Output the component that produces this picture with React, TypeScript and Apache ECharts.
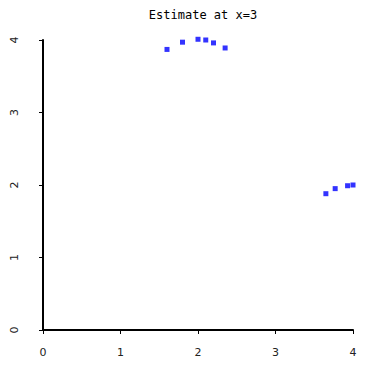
import React, { useEffect, useRef } from "react";
import * as echarts from "echarts";

const titleText = "Estimate at x=3";
const xTicks = [0, 1, 2, 3, 4];
const leftX = [1.6, 1.8, 2.0, 2.1, 2.2, 2.35];
const leftY = [3.87, 3.97, 4.01, 4.0, 3.96, 3.89];
const rightX = [3.65, 3.77, 3.93, 4.0];
const rightY = [1.88, 1.95, 1.99, 2.0];

export default function App() {
  const ref = useRef<HTMLDivElement>(null);
  useEffect(() => {
    if (!ref.current) return;
    const chart = echarts.init(ref.current, undefined, { renderer: "svg" });
    const points = [
      ...leftX.map((x, i) => [x, leftY[i]]),
      ...rightX.map((x, i) => [x, rightY[i]]),
    ];
    const axisCommon = {
      type: "value" as const,
      min: xTicks[0],
      max: xTicks[xTicks.length - 1],
      interval: 1,
      splitLine: { show: false },
      axisLine: { show: true, lineStyle: { color: "#000", width: 2 } },
      axisTick: { show: true, length: 4, lineStyle: { color: "#000", width: 1 } },
    };
    chart.setOption({
      animation: false,
      backgroundColor: "#fff",
      title: {
        text: titleText,
        left: 198,
        top: 4,
        textAlign: "center",
        textStyle: {
          fontFamily: "DejaVu Sans Mono",
          fontSize: 12,
          fontWeight: "normal",
          color: "#000",
        },
      },
      grid: { left: 43, right: 26, top: 40, bottom: 38 },
      xAxis: {
        ...axisCommon,
        axisLabel: {
          margin: 17,
          fontFamily: "DejaVu Sans",
          fontSize: 11,
          color: "#222",
        },
      },
      yAxis: {
        ...axisCommon,
        axisLabel: {
          rotate: 90,
          margin: 23,
          fontFamily: "DejaVu Sans",
          fontSize: 11,
          color: "#222",
        },
      },
      series: [
        {
          type: "scatter",
          data: points,
          symbol: "rect",
          symbolSize: 5,
          clip: false,
          itemStyle: { color: "#0000ff" },
        },
      ],
    });
    return () => chart.dispose();
  }, []);
  return (
    <div
      ref={ref}
      style={{ position: "absolute", left: 0, top: 0, width: 379, height: 368 }}
    />
  );
}
